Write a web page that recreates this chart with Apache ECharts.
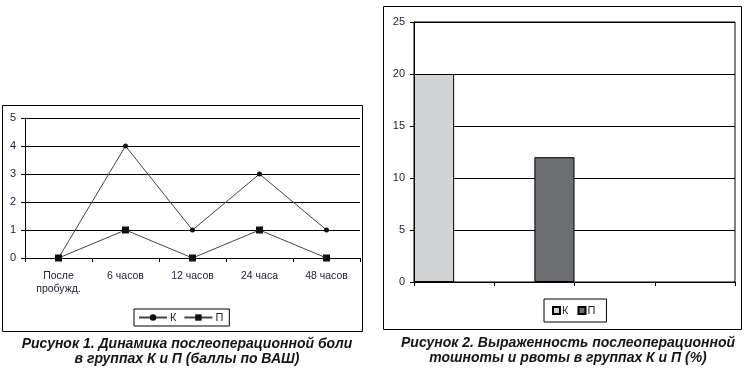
<!DOCTYPE html>
<html>
<head>
<meta charset="utf-8">
<script src="https://cdn.jsdelivr.net/npm/echarts@6/dist/echarts.min.js"></script>
<style>html,body{margin:0;padding:0;background:#fff}#c{width:745px;height:369px}</style>
</head>
<body>
<div id="c"></div>
<script>
// Chart 1 data
const painCategories = ['После\nпробужд.', '6 часов', '12 часов', '24 часа', '48 часов'];
const painK = [0, 4, 1, 3, 1];
const painP = [0, 1, 0, 1, 0];
const painYTicks = [0, 1, 2, 3, 4, 5];
// Chart 2 data
const nauseaCategories = ['', '', '', ''];
const nauseaK = [20, '-', '-', '-'];
const nauseaP = ['-', 12, '-', '-'];
const nauseaYTicks = [0, 5, 10, 15, 20, 25];
const caption1 = 'Рисунок 1. Динамика послеоперационной боли\nв группах К и П (баллы по ВАШ)';
const caption2 = 'Рисунок 2. Выраженность послеоперационной\nтошноты и рвоты в группах К и П (%)';

const txt = '#23233a';
const font = 'Liberation Sans';
const chart = echarts.init(document.getElementById('c'), null, {renderer: 'canvas'});
chart.setOption({
  animation: false,
  backgroundColor: '#fff',
  textStyle: {fontFamily: font},
  title: [
    {text: caption1, left: 182, top: 332, textAlign: 'center',
     textStyle: {fontFamily: font, fontSize: 14, fontWeight: 'bold', fontStyle: 'italic', color: '#151515', lineHeight: 15, align: 'center'}},
    {text: caption2, left: 563, top: 331, textAlign: 'center',
     textStyle: {fontFamily: font, fontSize: 14, fontWeight: 'bold', fontStyle: 'italic', color: '#151515', lineHeight: 15, align: 'center'}}
  ],
  graphic: [
    {type: 'rect', shape: {x: 2.5, y: 105.5, width: 360, height: 226}, style: {fill: 'none', stroke: '#000', lineWidth: 1}, silent: true},
    {type: 'rect', shape: {x: 383.5, y: 6.5, width: 358, height: 323}, style: {fill: 'none', stroke: '#000', lineWidth: 1}, silent: true}
  ],
  legend: [
    {data: ['К', 'П'], left: 134, top: 309, borderColor: '#000', borderWidth: 1, padding: [3, 6, 3, 4], itemGap: 7,
     itemWidth: 28, itemHeight: 8, textStyle: {color: txt, fontSize: 11, fontFamily: font, padding: [0, 0, 0, -2]}},
    {data: ['К ', 'П '], left: 544, top: 299, borderColor: '#000', borderWidth: 1, padding: [6, 8], itemGap: 6,
     itemWidth: 7, itemHeight: 7, icon: 'rect', textStyle: {color: txt, fontSize: 11, fontFamily: font, padding: [0, 0, 0, -3]}}
  ],
  grid: [
    {left: 25, top: 118, width: 335, height: 140},
    {left: 414, top: 22, width: 321, height: 260, show: true, borderColor: '#000', borderWidth: 1, backgroundColor: 'transparent'}
  ],
  xAxis: [
    {type: 'category', gridIndex: 0, data: painCategories, boundaryGap: true,
     axisLine: {lineStyle: {color: '#000', width: 1}},
     axisTick: {show: true, inside: false, length: 4, alignWithLabel: false, lineStyle: {color: '#000'}},
     axisLabel: {color: txt, fontSize: 10.5, margin: 12, lineHeight: 13, fontFamily: font}},
    {type: 'category', gridIndex: 1, data: nauseaCategories, boundaryGap: true,
     axisLine: {lineStyle: {color: '#000', width: 1}},
     axisTick: {show: true, length: 4, lineStyle: {color: '#000'}},
     axisLabel: {show: false}}
  ],
  yAxis: [
    {type: 'value', gridIndex: 0, min: painYTicks[0], max: painYTicks[painYTicks.length - 1], interval: 1,
     axisLine: {show: true, lineStyle: {color: '#000', width: 1}},
     axisTick: {show: true, length: 4, lineStyle: {color: '#000'}},
     splitLine: {show: true, lineStyle: {color: '#000', width: 1}},
     axisLabel: {color: txt, fontSize: 11, margin: 9, fontFamily: font}},
    {type: 'value', gridIndex: 1, min: nauseaYTicks[0], max: nauseaYTicks[nauseaYTicks.length - 1], interval: 5,
     axisLine: {show: true, lineStyle: {color: '#000', width: 1}},
     axisTick: {show: true, length: 4, lineStyle: {color: '#000'}},
     splitLine: {show: true, lineStyle: {color: '#000', width: 1}},
     axisLabel: {color: txt, fontSize: 11, margin: 9, fontFamily: font}}
  ],
  series: [
    {name: 'К', type: 'line', xAxisIndex: 0, yAxisIndex: 0, data: painK,
     symbol: 'circle', symbolSize: 5, lineStyle: {color: '#444', width: 1},
     itemStyle: {color: '#111'}},
    {name: 'П', type: 'line', xAxisIndex: 0, yAxisIndex: 0, data: painP,
     symbol: 'rect', symbolSize: 7, lineStyle: {color: '#444', width: 1},
     itemStyle: {color: '#111'}},
    {name: 'К ', type: 'bar', xAxisIndex: 1, yAxisIndex: 1, data: nauseaK,
     barGap: '0%', barCategoryGap: '0%',
     itemStyle: {color: '#d2d3d5', borderColor: '#000', borderWidth: 1}},
    {name: 'П ', type: 'bar', xAxisIndex: 1, yAxisIndex: 1, data: nauseaP,
     barGap: '0%', barCategoryGap: '0%',
     itemStyle: {color: '#6d6e71', borderColor: '#000', borderWidth: 1}}
  ]
});
</script>
</body>
</html>
